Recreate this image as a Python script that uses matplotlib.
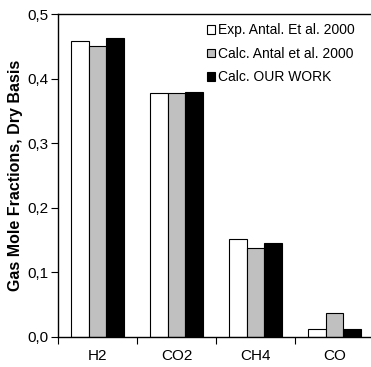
import matplotlib
matplotlib.use("Agg")
import matplotlib.pyplot as plt
import numpy as np

plt.rcParams['font.family'] = ['Liberation Sans', 'DejaVu Sans']

categories = ["H2", "CO2", "CH4", "CO"]
series_names = ["Exp. Antal. Et al. 2000", "Calc. Antal et al. 2000", "Calc. OUR WORK"]
exp_antal = [0.458, 0.377, 0.152, 0.012]
calc_antal = [0.450, 0.378, 0.137, 0.037]
calc_ours = [0.463, 0.380, 0.146, 0.013]
yticks = [0.0, 0.1, 0.2, 0.3, 0.4, 0.5]
ytick_labels = ["0,0", "0,1", "0,2", "0,3", "0,4", "0,5"]

colors = ["white", "#c0c0c0", "black"]

fig = plt.figure(figsize=(3.71, 3.67), dpi=100)
ax = fig.add_axes([58/371, 1-337/367, 1-58/371, (337-14)/367])

x = np.arange(len(categories))
w = 0.222
for i, (vals, c, name) in enumerate(zip([exp_antal, calc_antal, calc_ours], colors, series_names)):
    ax.bar(x + (i-1)*w, vals, w, color=c, edgecolor="black", linewidth=0.8, label=name)

ax.set_ylim(0, 0.5)
ax.set_xlim(-0.5, -0.5 + (371-58)/79)
ax.set_yticks(yticks)
ax.set_yticklabels(ytick_labels, fontsize=11)
ax.set_xticks(np.arange(len(categories)) - 0.5)
ax.set_xticklabels([])
ax.set_xticks(x, minor=True)
ax.set_xticklabels(categories, minor=True, fontsize=11)
ax.tick_params(axis='x', which='minor', length=0, pad=9)
ax.tick_params(axis='x', which='major', length=5, direction='out')
ax.tick_params(axis='y', length=5, direction='out', pad=2)
ax.spines['right'].set_visible(False)
for s in ['left', 'bottom', 'top']:
    ax.spines[s].set_linewidth(1.0)

ax.set_ylabel("Gas Mole Fractions, Dry Basis", fontsize=11.5, fontweight='bold', labelpad=3)

leg = ax.legend(loc='upper right', bbox_to_anchor=(0.985, 1.005), frameon=False, fontsize=10,
                handlelength=0.6, handleheight=0.6, handletextpad=0.25, labelspacing=0.68,
                borderaxespad=0.4)

fig.savefig("out.png", dpi=100)
